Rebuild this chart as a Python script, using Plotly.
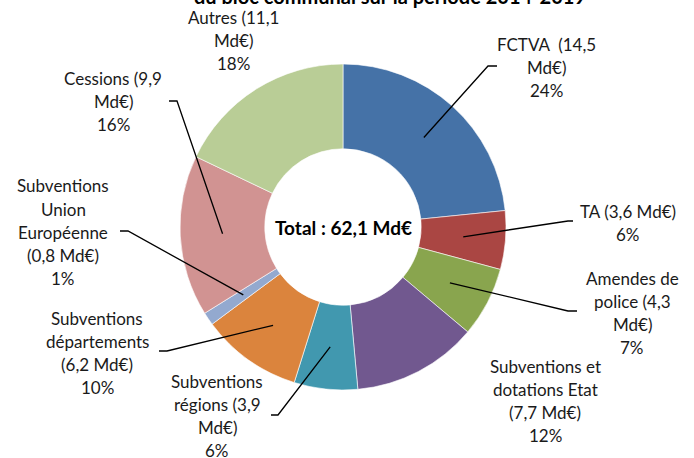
import math
import plotly.graph_objects as go

# ---- data ----
categories = ["FCTVA", "TA", "Amendes de police", "Subventions et dotations Etat",
              "Subventions régions", "Subventions départements",
              "Subventions Union Européenne", "Cessions", "Autres"]
values = [14.5, 3.6, 4.3, 7.7, 3.9, 6.2, 0.8, 9.9, 11.1]
label_lines = [
    ["FCTVA  (14,5", "Md€)", "24%"],
    ["TA (3,6 Md€)", "6%"],
    ["Amendes de", "police (4,3", "Md€)", "7%"],
    ["Subventions et", "dotations Etat", "(7,7 Md€)", "12%"],
    ["Subventions", "régions (3,9", "Md€)", "6%"],
    ["Subventions", "départements", "(6,2 Md€)", "10%"],
    ["Subventions", "Union", "Européenne", "(0,8 Md€)", "1%"],
    ["Cessions (9,9", "Md€)", "16%"],
    ["Autres (11,1", "Md€)", "18%"],
]
center_text = "Total : 62,1 Md€"
title_text = "du bloc communal sur la période 2014-2019"

colors = ["#4572A7", "#AA4643", "#89A54E", "#71588F", "#4198AF",
          "#DB843D", "#93A9CF", "#D19392", "#B9CD96"]

# ---- layout (pixels) ----
W, H = 694, 458
CX, CY, R = 343, 227, 163
HOLE = 0.48
label_pos = [
    (546, 44), (628, 211), (632, 278), (545, 366), (217, 381),
    (97, 318), (63, 186), (113, 78), (233, 17),
]
leaders = [
    ((488, 66), (497, 66)),
    ((568, 221), (573, 221)),
    ((568, 311), (577, 311)),
    None,
    ((278, 415), (271, 415)),
    ((167, 351), (159, 351)),
    ((128, 231), (120, 231)),
    ((177, 101), (169, 101)),
    None,
]
LINE_H = 23.2


def px(x):
    return x / W


def py(y):
    return 1 - y / H


fig = go.Figure(go.Pie(
    labels=categories, values=values, sort=False, direction="clockwise",
    rotation=0, hole=HOLE, textinfo="none", hoverinfo="label+value+percent",
    marker=dict(colors=colors, line=dict(color="white", width=0.6)),
    domain=dict(x=[px(CX - R), px(CX + R)], y=[py(CY + R), py(CY - R)]),
    showlegend=False,
))

annotations = []
shapes = []
total = sum(values)
cum = 0
rmid = R * (1 + HOLE) / 2
for i, v in enumerate(values):
    mid = (cum + v / 2) / total * 2 * math.pi
    cum += v
    ax = CX + rmid * math.sin(mid)
    ay = CY - rmid * math.cos(mid)
    lx, ly = label_pos[i]
    for k, line in enumerate(label_lines[i]):
        annotations.append(dict(
            x=px(lx), y=py(ly + k * LINE_H), xref="paper", yref="paper",
            text=line, showarrow=False, xanchor="center", yanchor="middle",
            font=dict(family="Lato", size=17, color="#1a1a1a")))
    if leaders[i]:
        (bx, by), (ex, ey) = leaders[i]
        path = f"M {px(ax)},{py(ay)} L {px(bx)},{py(by)} L {px(ex)},{py(ey)}"
        shapes.append(dict(type="path", path=path, xref="paper", yref="paper",
                           line=dict(color="black", width=1.3)))

annotations.append(dict(x=px(CX), y=py(CY), xref="paper", yref="paper",
                        text=f"<b>{center_text}</b>", showarrow=False,
                        font=dict(family="Lato", size=19, color="black")))
annotations.append(dict(x=px(390), y=py(-4), xref="paper", yref="paper",
                        text=f"<b>{title_text}</b>", showarrow=False,
                        xanchor="center", yanchor="middle",
                        font=dict(family="Lato", size=20, color="black")))

fig.update_layout(
    width=W, height=H, margin=dict(l=0, r=0, t=0, b=0),
    paper_bgcolor="white", plot_bgcolor="white",
    annotations=annotations, shapes=shapes,
)

fig.write_html("out.html", config={"displayModeBar": False},
               post_script="document.body.style.margin='0';")
